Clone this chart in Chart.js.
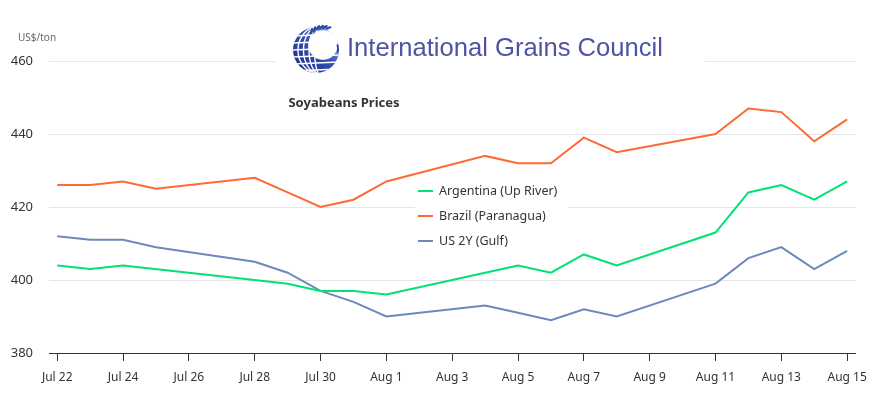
<!DOCTYPE html>
<html>
<head>
<meta charset="utf-8">
<script src="https://cdn.jsdelivr.net/npm/chart.js@4.4.1/dist/chart.umd.min.js"></script>
<style>
	html, body { margin: 0; padding: 0; background: #fff; }
	#wrap { width: 876px; height: 396px; }
</style>
</head>
<body>
<div id="wrap"><canvas id="chart" width="876" height="396"></canvas></div>
<script>
// trading days (2025)
const dates = ['Jul 22', 'Jul 23', 'Jul 24', 'Jul 25', 'Jul 28', 'Jul 29', 'Jul 30', 'Jul 31', 'Aug 1',
	'Aug 4', 'Aug 5', 'Aug 6', 'Aug 7', 'Aug 8', 'Aug 11', 'Aug 12', 'Aug 13', 'Aug 14', 'Aug 15'];
const argentina = [404, 403, 404, null, 400, 399, 397, 397, 396, 402, 404, 402, 407, 404, 413, 424, 426, 422, 427];
const brazil = [426, 426, 427, 425, 428, 424, 420, 422, 427, 434, 432, 432, 439, 435, 440, 447, 446, 438, 444];
const usGulf = [412, 411, 411, 409, 405, 402, 397, 394, 390, 393, 391, 389, 392, 390, 399, 406, 409, 403, 408];
const seriesNames = ['Argentina (Up River)', 'Brazil (Paranagua)', 'US 2Y (Gulf)'];
const seriesColors = ['#00e272', '#fe6a35', '#6b8abc'];
const tickLabels = ['Jul 22', 'Jul 24', 'Jul 26', 'Jul 28', 'Jul 30', 'Aug 1', 'Aug 3', 'Aug 5', 'Aug 7', 'Aug 9', 'Aug 11', 'Aug 13', 'Aug 15'];
const yTicks = [380, 400, 420, 440, 460];

const FONT = '"Noto Sans", "Open Sans", sans-serif';

// day offset from Jul 22
function dayOf(label) {
	const [m, d] = label.split(' ');
	return (m === 'Jul' ? 0 : 31) + Number(d) - 22;
}

function toPoints(values) {
	return dates.map((d, i) => ({ x: dayOf(d), y: values[i] })).filter(p => p.y !== null);
}

function drawGlobe(ctx, cx, cy, r) {
	const g = ctx.createLinearGradient(cx - r, cy + r, cx + r, cy - r);
	g.addColorStop(0, '#16297e');
	g.addColorStop(0.55, '#3553b5');
	g.addColorStop(1, '#b8c6ee');
	ctx.save();
	ctx.beginPath();
	ctx.arc(cx, cy, r, 0, Math.PI * 2);
	ctx.clip();
	ctx.fillStyle = g;
	ctx.fillRect(cx - r, cy - r, 2 * r, 2 * r);
	ctx.strokeStyle = '#fff';
	ctx.lineWidth = 1.4;
	for (let k = 1; k <= 4; k++) {
		ctx.beginPath();
		ctx.ellipse(cx + 4, cy, r * 0.24 * k, r * 1.05, 0, Math.PI * 0.5, Math.PI * 1.5);
		ctx.stroke();
	}
	for (let k = -2; k <= 3; k++) {
		ctx.beginPath();
		ctx.moveTo(cx - r, cy + k * 7);
		ctx.lineTo(cx + r, cy + k * 7 - 2);
		ctx.stroke();
	}
	ctx.restore();
	// hollow
	ctx.beginPath();
	ctx.arc(cx + 7, cy - 5, r * 0.64, 0, Math.PI * 2);
	ctx.fillStyle = '#fff';
	ctx.fill();
	// wheat ear along top
	ctx.fillStyle = '#2c45a6';
	for (let k = 0; k < 6; k++) {
		const a = -Math.PI * 0.72 + k * 0.2;
		const x = cx + 7 + Math.cos(a) * r * 0.78;
		const y = cy - 5 + Math.sin(a) * r * 0.78;
		ctx.beginPath();
		ctx.ellipse(x, y, 3.2, 1.3, a + 0.9, 0, Math.PI * 2);
		ctx.fill();
	}
	// right mark
	ctx.strokeStyle = '#1f3390';
	ctx.lineWidth = 1.6;
	ctx.beginPath();
	ctx.arc(cx, cy, r - 1, -0.25, 0.08);
	ctx.stroke();
}

const decorations = {
	id: 'decorations',
	beforeDatasetsDraw(chart) {
		const ctx = chart.ctx;
		ctx.save();
		// logo
		ctx.fillStyle = '#fff';
		ctx.fillRect(276, 14, 429, 66);
		drawGlobe(ctx, 316, 50, 23);
		ctx.font = '26px "Liberation Sans", Arial, sans-serif';
		ctx.fillStyle = '#5053a3';
		ctx.textBaseline = 'middle';
		ctx.textAlign = 'left';
		ctx.fillText('International Grains Council', 347, 49, 316);

		// title
		ctx.font = 'bold 13px ' + FONT;
		ctx.fillStyle = '#333';
		ctx.textAlign = 'center';
		ctx.fillText('Soyabeans Prices', 344, 103);

		// unit
		ctx.font = '10px ' + FONT;
		ctx.fillStyle = '#666';
		ctx.textAlign = 'left';
		ctx.fillText('US$/ton', 18, 38);

		// legend
		ctx.fillStyle = '#fff';
		ctx.fillRect(415, 176, 153, 78);
		ctx.font = '12.5px ' + FONT;
		chart.data.datasets.forEach((ds, i) => {
			const y = 191 + i * 25;
			ctx.strokeStyle = ds.borderColor;
			ctx.lineWidth = 2;
			ctx.beginPath();
			ctx.moveTo(418, y);
			ctx.lineTo(433, y);
			ctx.stroke();
			ctx.fillStyle = '#333';
			ctx.fillText(ds.label, 439, y);
		});
		ctx.restore();
	}
};

new Chart(document.getElementById('chart'), {
	type: 'line',
	data: {
		datasets: [argentina, brazil, usGulf].map((vals, i) => ({
			label: seriesNames[i],
			data: toPoints(vals),
			borderColor: seriesColors[i],
			backgroundColor: seriesColors[i],
			borderWidth: 2,
			pointRadius: 0,
			tension: 0
		}))
	},
	options: {
		responsive: false,
		animation: false,
		layout: { padding: { top: 61, right: 19, bottom: 0, left: 0 } },
		plugins: { legend: { display: false }, tooltip: { enabled: false }, title: { display: false } },
		scales: {
			x: {
				type: 'linear',
				min: -0.25,
				max: 24.25,
				afterBuildTicks(scale) {
					scale.ticks = tickLabels.map(t => ({ value: dayOf(t) }));
				},
				afterFit(scale) { scale.height = 43; },
				ticks: {
					callback: (v) => tickLabels.find(t => dayOf(t) === v) || '',
					color: '#333',
					font: { family: FONT, size: 12 },
					padding: 9,
					maxRotation: 0,
					autoSkip: false
				},
				grid: { drawOnChartArea: false, tickLength: 8, color: '#333' },
				border: { color: '#333', width: 1 }
			},
			y: {
				min: 380,
				max: 460,
				afterBuildTicks(scale) {
					scale.ticks = yTicks.map(v => ({ value: v }));
				},
				afterFit(scale) { scale.width = 49; },
				ticks: {
					color: '#333',
					font: { family: FONT, size: 13 },
					padding: 16
				},
				grid: { color: '#e6e6e6', drawTicks: false },
				border: { display: false }
			}
		}
	},
	plugins: [decorations]
});
</script>
</body>
</html>
